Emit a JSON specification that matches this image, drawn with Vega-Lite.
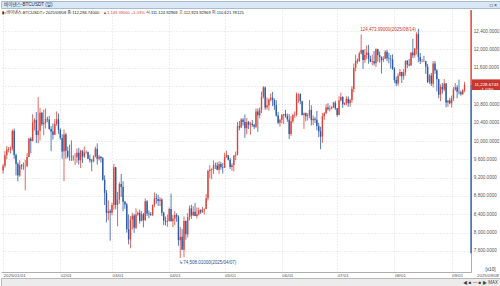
{
"$schema": "https://vega.github.io/schema/vega-lite/v6.json",
"padding": 0,
"background": "white",
"spacing": 0,
"config": {"view": {"stroke": null}, "font": "Liberation Sans, Noto Sans CJK KR", "concat": {"spacing": 0}, "axisY": {"labelOverlap": false}, "axisX": {"labelOverlap": false}},
"datasets": {"btc": [
{"d":"2025-01-01","o":93576,"h":95000,"l":92900,"c":94590},
{"d":"2025-01-02","o":94590,"h":97800,"l":94200,"c":96890},
{"d":"2025-01-03","o":96890,"h":98900,"l":96000,"c":98110},
{"d":"2025-01-04","o":98110,"h":98700,"l":97500,"c":98240},
{"d":"2025-01-05","o":98240,"h":98800,"l":97300,"c":98360},
{"d":"2025-01-06","o":98360,"h":102500,"l":97900,"c":102240},
{"d":"2025-01-07","o":102240,"h":102700,"l":96100,"c":96950},
{"d":"2025-01-08","o":96950,"h":97250,"l":92500,"c":95040},
{"d":"2025-01-09","o":95040,"h":95350,"l":91200,"c":92480},
{"d":"2025-01-10","o":92480,"h":95800,"l":92200,"c":94700},
{"d":"2025-01-11","o":94700,"h":94960,"l":93800,"c":94560},
{"d":"2025-01-12","o":94560,"h":95300,"l":93700,"c":94490},
{"d":"2025-01-13","o":94490,"h":95900,"l":89260,"c":94520},
{"d":"2025-01-14","o":94520,"h":97350,"l":94300,"c":96530},
{"d":"2025-01-15","o":96530,"h":100700,"l":96500,"c":100500},
{"d":"2025-01-16","o":100500,"h":100850,"l":97300,"c":99990},
{"d":"2025-01-17","o":99990,"h":105850,"l":99950,"c":104080},
{"d":"2025-01-18","o":104080,"h":104950,"l":102280,"c":104550},
{"d":"2025-01-19","o":104550,"h":106300,"l":99550,"c":101330},
{"d":"2025-01-20","o":101330,"h":109590,"l":99500,"c":102260},
{"d":"2025-01-21","o":102260,"h":107240,"l":100100,"c":106140},
{"d":"2025-01-22","o":106140,"h":106330,"l":103300,"c":103650},
{"d":"2025-01-23","o":103650,"h":106850,"l":101250,"c":103960},
{"d":"2025-01-24","o":103960,"h":107100,"l":102750,"c":104820},
{"d":"2025-01-25","o":104820,"h":105290,"l":104100,"c":104710},
{"d":"2025-01-26","o":104710,"h":105480,"l":102460,"c":102620},
{"d":"2025-01-27","o":102620,"h":103250,"l":97780,"c":102080},
{"d":"2025-01-28","o":102080,"h":103800,"l":100300,"c":101340},
{"d":"2025-01-29","o":101340,"h":104800,"l":101300,"c":103730},
{"d":"2025-01-30","o":103730,"h":106460,"l":103300,"c":104730},
{"d":"2025-01-31","o":104730,"h":106000,"l":101550,"c":102430},
{"d":"2025-02-01","o":102430,"h":102750,"l":100300,"c":100640},
{"d":"2025-02-02","o":100640,"h":101460,"l":96150,"c":97690},
{"d":"2025-02-03","o":97690,"h":102500,"l":91230,"c":101400},
{"d":"2025-02-04","o":101400,"h":101750,"l":96150,"c":97870},
{"d":"2025-02-05","o":97870,"h":98800,"l":96250,"c":96620},
{"d":"2025-02-06","o":96620,"h":99200,"l":95700,"c":96560},
{"d":"2025-02-07","o":96560,"h":100130,"l":95650,"c":96500},
{"d":"2025-02-08","o":96500,"h":96880,"l":95700,"c":96470},
{"d":"2025-02-09","o":96470,"h":97340,"l":94750,"c":96480},
{"d":"2025-02-10","o":96480,"h":98350,"l":95250,"c":97430},
{"d":"2025-02-11","o":97430,"h":98500,"l":94850,"c":95780},
{"d":"2025-02-12","o":95780,"h":98100,"l":94100,"c":97870},
{"d":"2025-02-13","o":97870,"h":98000,"l":95200,"c":96610},
{"d":"2025-02-14","o":96610,"h":98800,"l":96300,"c":97500},
{"d":"2025-02-15","o":97500,"h":97960,"l":97250,"c":97570},
{"d":"2025-02-16","o":97570,"h":97700,"l":96050,"c":96120},
{"d":"2025-02-17","o":96120,"h":97000,"l":95250,"c":95770},
{"d":"2025-02-18","o":95770,"h":96100,"l":93390,"c":95530},
{"d":"2025-02-19","o":95530,"h":96880,"l":95350,"c":96620},
{"d":"2025-02-20","o":96620,"h":98770,"l":96400,"c":98330},
{"d":"2025-02-21","o":98330,"h":99500,"l":94850,"c":96120},
{"d":"2025-02-22","o":96120,"h":96950,"l":95750,"c":96580},
{"d":"2025-02-23","o":96580,"h":96700,"l":95300,"c":96250},
{"d":"2025-02-24","o":96250,"h":96500,"l":91350,"c":91550},
{"d":"2025-02-25","o":91550,"h":92500,"l":86050,"c":88700},
{"d":"2025-02-26","o":88700,"h":89300,"l":82250,"c":84300},
{"d":"2025-02-27","o":84300,"h":87050,"l":82700,"c":84700},
{"d":"2025-02-28","o":84700,"h":85120,"l":78260,"c":84350},
{"d":"2025-03-01","o":84350,"h":86560,"l":83800,"c":86060},
{"d":"2025-03-02","o":86060,"h":95000,"l":85050,"c":94270},
{"d":"2025-03-03","o":94270,"h":94400,"l":85100,"c":86070},
{"d":"2025-03-04","o":86070,"h":88900,"l":81400,"c":87220},
{"d":"2025-03-05","o":87220,"h":91000,"l":86300,"c":90620},
{"d":"2025-03-06","o":90620,"h":92800,"l":87800,"c":89960},
{"d":"2025-03-07","o":89960,"h":91200,"l":84650,"c":86740},
{"d":"2025-03-08","o":86740,"h":86900,"l":85200,"c":86150},
{"d":"2025-03-09","o":86150,"h":86500,"l":80000,"c":80730},
{"d":"2025-03-10","o":80730,"h":83950,"l":77450,"c":78530},
{"d":"2025-03-11","o":78530,"h":83600,"l":76600,"c":82860},
{"d":"2025-03-12","o":82860,"h":84350,"l":80650,"c":83720},
{"d":"2025-03-13","o":83720,"h":84100,"l":79950,"c":81070},
{"d":"2025-03-14","o":81070,"h":85300,"l":80800,"c":83970},
{"d":"2025-03-15","o":83970,"h":84650,"l":83650,"c":84340},
{"d":"2025-03-16","o":84340,"h":85050,"l":81980,"c":82580},
{"d":"2025-03-17","o":82580,"h":84730,"l":82450,"c":84010},
{"d":"2025-03-18","o":84010,"h":84300,"l":81150,"c":82720},
{"d":"2025-03-19","o":82720,"h":87450,"l":82590,"c":86850},
{"d":"2025-03-20","o":86850,"h":87100,"l":83600,"c":84170},
{"d":"2025-03-21","o":84170,"h":84850,"l":83170,"c":84040},
{"d":"2025-03-22","o":84040,"h":84500,"l":83650,"c":83830},
{"d":"2025-03-23","o":83830,"h":86100,"l":83650,"c":86080},
{"d":"2025-03-24","o":86080,"h":88760,"l":85550,"c":87500},
{"d":"2025-03-25","o":87500,"h":88500,"l":86320,"c":87370},
{"d":"2025-03-26","o":87370,"h":88290,"l":85850,"c":86900},
{"d":"2025-03-27","o":86900,"h":87790,"l":85800,"c":87230},
{"d":"2025-03-28","o":87230,"h":87500,"l":83600,"c":84350},
{"d":"2025-03-29","o":84350,"h":84570,"l":81650,"c":82650},
{"d":"2025-03-30","o":82650,"h":83520,"l":81550,"c":82390},
{"d":"2025-03-31","o":82390,"h":83950,"l":81280,"c":82550},
{"d":"2025-04-01","o":82550,"h":85500,"l":82430,"c":85160},
{"d":"2025-04-02","o":85160,"h":88500,"l":82320,"c":82520},
{"d":"2025-04-03","o":82520,"h":83900,"l":81200,"c":83100},
{"d":"2025-04-04","o":83100,"h":84720,"l":81660,"c":83840},
{"d":"2025-04-05","o":83840,"h":84230,"l":82370,"c":83500},
{"d":"2025-04-06","o":83500,"h":83800,"l":77150,"c":78370},
{"d":"2025-04-07","o":78370,"h":81250,"l":74508,"c":79130},
{"d":"2025-04-08","o":79130,"h":80850,"l":76200,"c":76270},
{"d":"2025-04-09","o":76270,"h":83550,"l":74620,"c":82570},
{"d":"2025-04-10","o":82570,"h":82700,"l":78450,"c":79630},
{"d":"2025-04-11","o":79630,"h":84250,"l":78940,"c":83400},
{"d":"2025-04-12","o":83400,"h":85900,"l":82700,"c":85280},
{"d":"2025-04-13","o":85280,"h":86100,"l":83030,"c":83740},
{"d":"2025-04-14","o":83740,"h":85800,"l":83700,"c":84540},
{"d":"2025-04-15","o":84540,"h":86500,"l":83600,"c":83630},
{"d":"2025-04-16","o":83630,"h":85500,"l":83100,"c":84030},
{"d":"2025-04-17","o":84030,"h":85470,"l":83750,"c":84900},
{"d":"2025-04-18","o":84900,"h":85100,"l":84100,"c":84450},
{"d":"2025-04-19","o":84450,"h":85600,"l":84350,"c":85060},
{"d":"2025-04-20","o":85060,"h":85300,"l":83950,"c":85170},
{"d":"2025-04-21","o":85170,"h":88460,"l":85150,"c":87520},
{"d":"2025-04-22","o":87520,"h":93800,"l":87000,"c":93440},
{"d":"2025-04-23","o":93440,"h":94700,"l":91900,"c":93700},
{"d":"2025-04-24","o":93700,"h":94000,"l":91650,"c":93950},
{"d":"2025-04-25","o":93950,"h":95750,"l":92850,"c":94720},
{"d":"2025-04-26","o":94720,"h":95300,"l":93880,"c":94650},
{"d":"2025-04-27","o":94650,"h":95350,"l":93600,"c":93750},
{"d":"2025-04-28","o":93750,"h":95600,"l":92800,"c":94980},
{"d":"2025-04-29","o":94980,"h":95450,"l":93750,"c":94280},
{"d":"2025-04-30","o":94280,"h":95200,"l":92900,"c":94170},
{"d":"2025-05-01","o":94170,"h":97420,"l":94130,"c":96490},
{"d":"2025-05-02","o":96490,"h":97900,"l":96330,"c":96910},
{"d":"2025-05-03","o":96910,"h":96950,"l":95750,"c":95890},
{"d":"2025-05-04","o":95890,"h":96300,"l":93900,"c":94320},
{"d":"2025-05-05","o":94320,"h":95200,"l":93500,"c":94750},
{"d":"2025-05-06","o":94750,"h":96880,"l":93380,"c":96810},
{"d":"2025-05-07","o":96810,"h":97700,"l":95800,"c":97030},
{"d":"2025-05-08","o":97030,"h":104150,"l":96900,"c":103240},
{"d":"2025-05-09","o":103240,"h":104350,"l":102320,"c":102970},
{"d":"2025-05-10","o":102970,"h":104980,"l":102800,"c":104700},
{"d":"2025-05-11","o":104700,"h":104990,"l":103350,"c":104170},
{"d":"2025-05-12","o":104170,"h":105800,"l":100700,"c":102790},
{"d":"2025-05-13","o":102790,"h":104990,"l":101450,"c":104120},
{"d":"2025-05-14","o":104120,"h":104390,"l":102600,"c":103540},
{"d":"2025-05-15","o":103540,"h":104180,"l":101400,"c":103750},
{"d":"2025-05-16","o":103750,"h":104590,"l":103100,"c":103500},
{"d":"2025-05-17","o":103500,"h":103720,"l":102600,"c":103130},
{"d":"2025-05-18","o":103130,"h":107100,"l":102850,"c":106450},
{"d":"2025-05-19","o":106450,"h":107100,"l":102000,"c":105600},
{"d":"2025-05-20","o":105600,"h":107300,"l":104950,"c":106790},
{"d":"2025-05-21","o":106790,"h":110790,"l":106100,"c":109640},
{"d":"2025-05-22","o":109640,"h":111980,"l":109250,"c":111700},
{"d":"2025-05-23","o":111700,"h":111900,"l":106800,"c":107300},
{"d":"2025-05-24","o":107300,"h":109500,"l":106850,"c":107790},
{"d":"2025-05-25","o":107790,"h":109300,"l":106600,"c":109030},
{"d":"2025-05-26","o":109030,"h":110400,"l":108650,"c":109440},
{"d":"2025-05-27","o":109440,"h":110720,"l":107600,"c":108940},
{"d":"2025-05-28","o":108940,"h":109300,"l":106800,"c":107780},
{"d":"2025-05-29","o":107780,"h":108900,"l":105320,"c":105590},
{"d":"2025-05-30","o":105590,"h":106300,"l":103650,"c":103990},
{"d":"2025-05-31","o":103990,"h":104880,"l":103100,"c":104640},
{"d":"2025-06-01","o":104640,"h":105900,"l":103900,"c":105650},
{"d":"2025-06-02","o":105650,"h":105950,"l":103700,"c":105880},
{"d":"2025-06-03","o":105880,"h":106800,"l":105100,"c":105430},
{"d":"2025-06-04","o":105430,"h":105980,"l":104170,"c":104700},
{"d":"2025-06-05","o":104700,"h":105900,"l":100400,"c":101510},
{"d":"2025-06-06","o":101510,"h":105450,"l":101100,"c":104290},
{"d":"2025-06-07","o":104290,"h":105970,"l":103900,"c":105620},
{"d":"2025-06-08","o":105620,"h":106450,"l":105080,"c":105720},
{"d":"2025-06-09","o":105720,"h":110600,"l":105350,"c":110260},
{"d":"2025-06-10","o":110260,"h":110400,"l":108340,"c":110270},
{"d":"2025-06-11","o":110270,"h":110400,"l":108050,"c":108650},
{"d":"2025-06-12","o":108650,"h":108800,"l":105550,"c":105670},
{"d":"2025-06-13","o":105670,"h":106200,"l":102650,"c":106070},
{"d":"2025-06-14","o":106070,"h":106230,"l":104300,"c":105410},
{"d":"2025-06-15","o":105410,"h":106100,"l":104490,"c":105590},
{"d":"2025-06-16","o":105590,"h":108950,"l":104950,"c":106790},
{"d":"2025-06-17","o":106790,"h":107800,"l":103380,"c":104550},
{"d":"2025-06-18","o":104550,"h":105550,"l":103500,"c":104830},
{"d":"2025-06-19","o":104830,"h":105200,"l":103930,"c":104640},
{"d":"2025-06-20","o":104640,"h":106550,"l":102350,"c":103300},
{"d":"2025-06-21","o":103300,"h":103970,"l":100840,"c":102120},
{"d":"2025-06-22","o":102120,"h":103100,"l":98200,"c":100960},
{"d":"2025-06-23","o":100960,"h":106100,"l":99600,"c":105420},
{"d":"2025-06-24","o":105420,"h":106300,"l":104600,"c":106060},
{"d":"2025-06-25","o":106060,"h":108000,"l":105900,"c":107320},
{"d":"2025-06-26","o":107320,"h":108250,"l":106650,"c":106950},
{"d":"2025-06-27","o":106950,"h":107780,"l":106450,"c":107100},
{"d":"2025-06-28","o":107100,"h":107600,"l":106900,"c":107350},
{"d":"2025-06-29","o":107350,"h":108530,"l":107220,"c":108370},
{"d":"2025-06-30","o":108370,"h":108780,"l":106750,"c":107140},
{"d":"2025-07-01","o":107140,"h":107200,"l":105260,"c":105700},
{"d":"2025-07-02","o":105700,"h":109780,"l":105600,"c":108840},
{"d":"2025-07-03","o":108840,"h":110550,"l":108600,"c":109610},
{"d":"2025-07-04","o":109610,"h":109760,"l":107250,"c":108020},
{"d":"2025-07-05","o":108020,"h":108430,"l":107800,"c":108230},
{"d":"2025-07-06","o":108230,"h":109750,"l":107800,"c":109200},
{"d":"2025-07-07","o":109200,"h":109710,"l":107450,"c":108260},
{"d":"2025-07-08","o":108260,"h":109220,"l":107500,"c":108920},
{"d":"2025-07-09","o":108920,"h":111990,"l":108350,"c":111330},
{"d":"2025-07-10","o":111330,"h":116880,"l":110600,"c":115990},
{"d":"2025-07-11","o":115990,"h":118870,"l":115220,"c":117520},
{"d":"2025-07-12","o":117520,"h":118000,"l":116900,"c":117420},
{"d":"2025-07-13","o":117420,"h":119490,"l":117250,"c":119090},
{"d":"2025-07-14","o":119090,"h":123220,"l":118900,"c":119840},
{"d":"2025-07-15","o":119840,"h":119950,"l":115750,"c":117680},
{"d":"2025-07-16","o":117680,"h":120050,"l":117000,"c":118760},
{"d":"2025-07-17","o":118760,"h":120850,"l":117850,"c":119290},
{"d":"2025-07-18","o":119290,"h":120980,"l":116850,"c":117930},
{"d":"2025-07-19","o":117930,"h":118600,"l":117200,"c":117290},
{"d":"2025-07-20","o":117290,"h":118850,"l":116500,"c":117380},
{"d":"2025-07-21","o":117380,"h":119650,"l":116500,"c":116970},
{"d":"2025-07-22","o":116970,"h":120250,"l":116150,"c":120000},
{"d":"2025-07-23","o":120000,"h":120100,"l":117300,"c":118760},
{"d":"2025-07-24","o":118760,"h":119530,"l":117100,"c":118340},
{"d":"2025-07-25","o":118340,"h":118480,"l":114720,"c":117640},
{"d":"2025-07-26","o":117640,"h":118500,"l":117200,"c":117950},
{"d":"2025-07-27","o":117950,"h":119800,"l":117850,"c":119450},
{"d":"2025-07-28","o":119450,"h":119900,"l":117400,"c":118060},
{"d":"2025-07-29","o":118060,"h":119250,"l":116950,"c":117920},
{"d":"2025-07-30","o":117920,"h":118800,"l":115800,"c":117830},
{"d":"2025-07-31","o":117830,"h":118900,"l":115500,"c":115760},
{"d":"2025-08-01","o":115760,"h":116100,"l":112700,"c":113300},
{"d":"2025-08-02","o":113300,"h":114050,"l":112000,"c":112550},
{"d":"2025-08-03","o":112550,"h":114750,"l":112050,"c":114220},
{"d":"2025-08-04","o":114220,"h":115700,"l":114100,"c":115070},
{"d":"2025-08-05","o":115070,"h":115100,"l":112650,"c":114120},
{"d":"2025-08-06","o":114120,"h":115700,"l":113380,"c":114990},
{"d":"2025-08-07","o":114990,"h":117600,"l":114260,"c":117500},
{"d":"2025-08-08","o":117500,"h":117650,"l":115900,"c":116690},
{"d":"2025-08-09","o":116690,"h":117900,"l":116300,"c":116490},
{"d":"2025-08-10","o":116490,"h":119300,"l":116450,"c":119290},
{"d":"2025-08-11","o":119290,"h":122300,"l":118100,"c":118690},
{"d":"2025-08-12","o":118690,"h":120300,"l":118200,"c":120130},
{"d":"2025-08-13","o":120130,"h":123700,"l":118900,"c":123310},
{"d":"2025-08-14","o":123310,"h":124474,"l":117200,"c":118300},
{"d":"2025-08-15","o":118300,"h":119200,"l":116800,"c":117390},
{"d":"2025-08-16","o":117390,"h":117900,"l":117150,"c":117460},
{"d":"2025-08-17","o":117460,"h":118600,"l":117300,"c":117420},
{"d":"2025-08-18","o":117420,"h":117500,"l":114650,"c":116240},
{"d":"2025-08-19","o":116240,"h":116800,"l":112650,"c":112880},
{"d":"2025-08-20","o":112880,"h":114600,"l":112400,"c":114280},
{"d":"2025-08-21","o":114280,"h":114850,"l":112000,"c":112500},
{"d":"2025-08-22","o":112500,"h":117400,"l":111700,"c":116930},
{"d":"2025-08-23","o":116930,"h":117450,"l":114650,"c":115400},
{"d":"2025-08-24","o":115400,"h":115700,"l":110800,"c":113490},
{"d":"2025-08-25","o":113490,"h":113550,"l":109300,"c":110110},
{"d":"2025-08-26","o":110110,"h":112380,"l":108700,"c":111800},
{"d":"2025-08-27","o":111800,"h":112650,"l":110350,"c":111260},
{"d":"2025-08-28","o":111260,"h":113500,"l":110850,"c":112570},
{"d":"2025-08-29","o":112570,"h":112650,"l":107350,"c":108380},
{"d":"2025-08-30","o":108380,"h":108950,"l":107450,"c":108820},
{"d":"2025-08-31","o":108820,"h":109450,"l":108050,"c":108250},
{"d":"2025-09-01","o":108250,"h":109900,"l":107270,"c":109250},
{"d":"2025-09-02","o":109250,"h":111790,"l":108750,"c":111250},
{"d":"2025-09-03","o":111250,"h":112650,"l":110950,"c":111720},
{"d":"2025-09-04","o":111720,"h":112200,"l":109330,"c":110720},
{"d":"2025-09-05","o":110720,"h":113400,"l":110150,"c":110660},
{"d":"2025-09-06","o":110660,"h":111000,"l":109900,"c":110190},
{"d":"2025-09-07","o":110190,"h":111300,"l":110100,"c":111137},
{"d":"2025-09-08","o":111125,"h":112924,"l":110622,"c":112287}
]},
"vconcat": [
{
 "width": 500, "height": 7,
 "view": {"fill": "#d9e6f3", "stroke": "#a7bcd3"},
 "data": {"values": [{}]},
 "layer": [
  {"mark": {"type": "text", "align": "left", "baseline": "middle", "fontSize": 4.6, "color": "#1f2f4a", "dx": 3},
   "encoding": {"x": {"datum": 0, "type": "quantitative", "scale": {"domain": [0, 1]}, "axis": null},
                "y": {"datum": 0.5, "type": "quantitative", "scale": {"domain": [0, 1]}, "axis": null},
                "text": {"value": "바이낸스-BTCUSDT (일)"}}},
  {"mark": {"type": "text", "align": "right", "baseline": "middle", "fontSize": 5, "color": "#333", "dx": -4},
   "encoding": {"x": {"datum": 1, "type": "quantitative"},
                "y": {"datum": 0.5, "type": "quantitative"},
                "text": {"value": "□ ×"}}}
 ]
},
{
 "width": 470, "height": 262,
 "layer": [
  {"data": {"name": "btc"},
   "mark": {"type": "rule", "strokeWidth": 0.8},
   "encoding": {
    "x": {"field": "d", "type": "temporal",
        "scale": {"type": "utc", "nice": false, "padding": 0, "domain": [1735591200000, 1757592000000]},
        "axis": {"orient": "bottom", "title": null, "tickCount": 30,
                 "values": [1735689600000, 1738368000000, 1740787200000, 1743465600000, 1746057600000, 1748736000000, 1751328000000, 1754006400000, 1756684800000, 1757289600000],
                 "labelExpr": "(utcFormat(datum.value, '%m/%d') == '01/01' || utcFormat(datum.value, '%m/%d') == '09/08') ? utcFormat(datum.value, '%Y/%m/%d') : utcFormat(datum.value, '%m/%d')",
                 "labelAlign": "left", "labelBaseline": "top", "labelFontSize": 4.4, "labelColor": "#555", "labelPadding": 1.5,
                 "labelOverlap": false, "labelFlush": false, "labelBound": false,
                 "labelOffset": {"condition": {"test": "utcFormat(datum.value, '%m/%d') == '09/08'", "value": 12}, "value": 0},
                 "ticks": false, "domain": true, "domainColor": "#999", "domainWidth": 0.8,
                 "grid": true, "gridColor": "#cfcfcf", "gridDash": [1, 2], "gridWidth": 0.7,
                 "gridOpacity": {"condition": {"test": "utcFormat(datum.value, '%m/%d') == '09/08'", "value": 0}, "value": 1}}},
    "y": {"field": "l", "type": "quantitative",
          "scale": {"domain": [71418, 128582], "nice": false, "zero": false, "padding": 0},
          "axis": {"orient": "right", "title": "[x10]", "titleAngle": 0, "titleX": 14, "titleY": 259, "titleAlign": "left", "titleBaseline": "middle", "titleFontSize": 4.6, "titleFontWeight": "normal", "titleColor": "#333",
                   "tickCount": 30,
                   "values": [76000, 80000, 84000, 88000, 92000, 96000, 100000, 104000, 108000, 112000, 116000, 120000, 124000],
                   "labelExpr": "datum.value == 112000 ? '' : format(datum.value / 10, ',.4f')", "labelOverlap": false, "labelBound": false, "labelFlush": false,
                   "labelFontSize": 4.6, "labelColor": "#555", "labelPadding": 2.3, "ticks": false,
                   "domain": true, "domainColor": "#999", "domainWidth": 0.8,
                   "grid": true, "gridColor": "#cfcfcf", "gridDash": [1, 2], "gridWidth": 0.7}},
    "y2": {"field": "h"},
    "color": {"condition": {"test": "datum.c >= datum.o", "value": "#d8443a"}, "value": "#2c5aa6"}
   }},
  {"data": {"name": "btc"},
   "mark": {"type": "bar", "width": 1.4},
   "encoding": {
    "x": {"field": "d", "type": "temporal"},
    "y": {"field": "o", "type": "quantitative"},
    "y2": {"field": "c"},
    "color": {"condition": {"test": "datum.c >= datum.o", "value": "#d8443a"}, "value": "#2c5aa6"}
   }},
  {"data": {"values": [{}]},
   "mark": {"type": "rule", "color": "#d8443a", "strokeWidth": 1.3},
   "encoding": {"x": {"datum": 1757592000000, "type": "temporal"},
                "y": {"datum": 128582, "type": "quantitative"}, "y2": {"datum": 112287}}},
  {"data": {"values": [{}]},
   "mark": {"type": "rule", "color": "#2c5aa6", "strokeWidth": 1.3},
   "encoding": {"x": {"datum": 1757592000000, "type": "temporal"},
                "y": {"datum": 112287, "type": "quantitative"}, "y2": {"datum": 75500}}},
  {"data": {"values": [{}]},
   "mark": {"type": "rect", "color": "#c8372d", "xOffset": 1},
   "encoding": {"x": {"datum": 1757592000000, "type": "temporal"},
                "x2": {"datum": 1758949440000},
                "y": {"datum": 113443, "type": "quantitative"}, "y2": {"datum": 111131}}},
  {"data": {"values": [{}]},
   "mark": {"type": "text", "color": "white", "fontSize": 4.4, "align": "center", "baseline": "middle", "dx": 15.5, "lineHeight": 5},
   "encoding": {"x": {"datum": 1757592000000, "type": "temporal"},
                "y": {"datum": 112287, "type": "quantitative"},
                "text": {"value": ["11,228.6743", "+1.03%"]}}},
  {"data": {"values": [{"d": "2025-08-14", "v": 124474, "t": "124,473.99000(2025/08/14)→"}]},
   "mark": {"type": "text", "color": "#c8372d", "fontSize": 4.5, "align": "right", "baseline": "middle", "dx": 2, "dy": 1},
   "encoding": {"x": {"field": "d", "type": "temporal"}, "y": {"field": "v", "type": "quantitative"}, "text": {"field": "t"}}},
  {"data": {"values": [{"d": "2025-04-07", "v": 74508, "t": "↳74,508.01000(2025/04/07)"}]},
   "mark": {"type": "text", "color": "#2c4f8f", "fontSize": 4.5, "align": "left", "baseline": "middle", "dx": -1, "dy": 5},
   "encoding": {"x": {"field": "d", "type": "temporal"}, "y": {"field": "v", "type": "quantitative"}, "text": {"field": "t"}}},
  {"data": {"values": [{}]},
   "mark": {"type": "text", "color": "#222", "fontSize": 4.1, "align": "left", "baseline": "middle", "dx": 1, "dy": 3},
   "encoding": {"x": {"datum": 1735591200000, "type": "temporal"},
                "y": {"datum": 128582, "type": "quantitative"},
                "text": {"value": "▮<바이낸스-BTCUSDT> 2025/09/08 종:112,286.74000"}}},
  {"data": {"values": [{}]},
   "mark": {"type": "text", "color": "#d8443a", "fontSize": 4.1, "align": "left", "baseline": "middle", "dx": 102, "dy": 3},
   "encoding": {"x": {"datum": 1735591200000, "type": "temporal"},
                "y": {"datum": 128582, "type": "quantitative"},
                "text": {"value": "▲1,149.39000  +1.03%"}}},
  {"data": {"values": [{}]},
   "mark": {"type": "text", "color": "#222", "fontSize": 4.1, "align": "left", "baseline": "middle", "dx": 145, "dy": 3},
   "encoding": {"x": {"datum": 1735591200000, "type": "temporal"},
                "y": {"datum": 128582, "type": "quantitative"},
                "text": {"value": "시:111,124.92969 고:112,923.92969 저:110,621.78125"}}}
 ]
},
{
 "width": 500, "height": 9,
 "view": {"fill": "#ececec", "stroke": "#b8b8b8"},
 "data": {"values": [{}]},
 "mark": {"type": "text", "align": "right", "baseline": "middle", "fontSize": 4.5, "color": "#444", "dx": -3},
 "encoding": {"x": {"datum": 1, "type": "quantitative", "scale": {"domain": [0, 1]}, "axis": null},
              "y": {"datum": 0.5, "type": "quantitative", "scale": {"domain": [0, 1]}, "axis": null},
              "text": {"value": "◀ ■ — ■ ▶ MAX"}}
}
]
}
